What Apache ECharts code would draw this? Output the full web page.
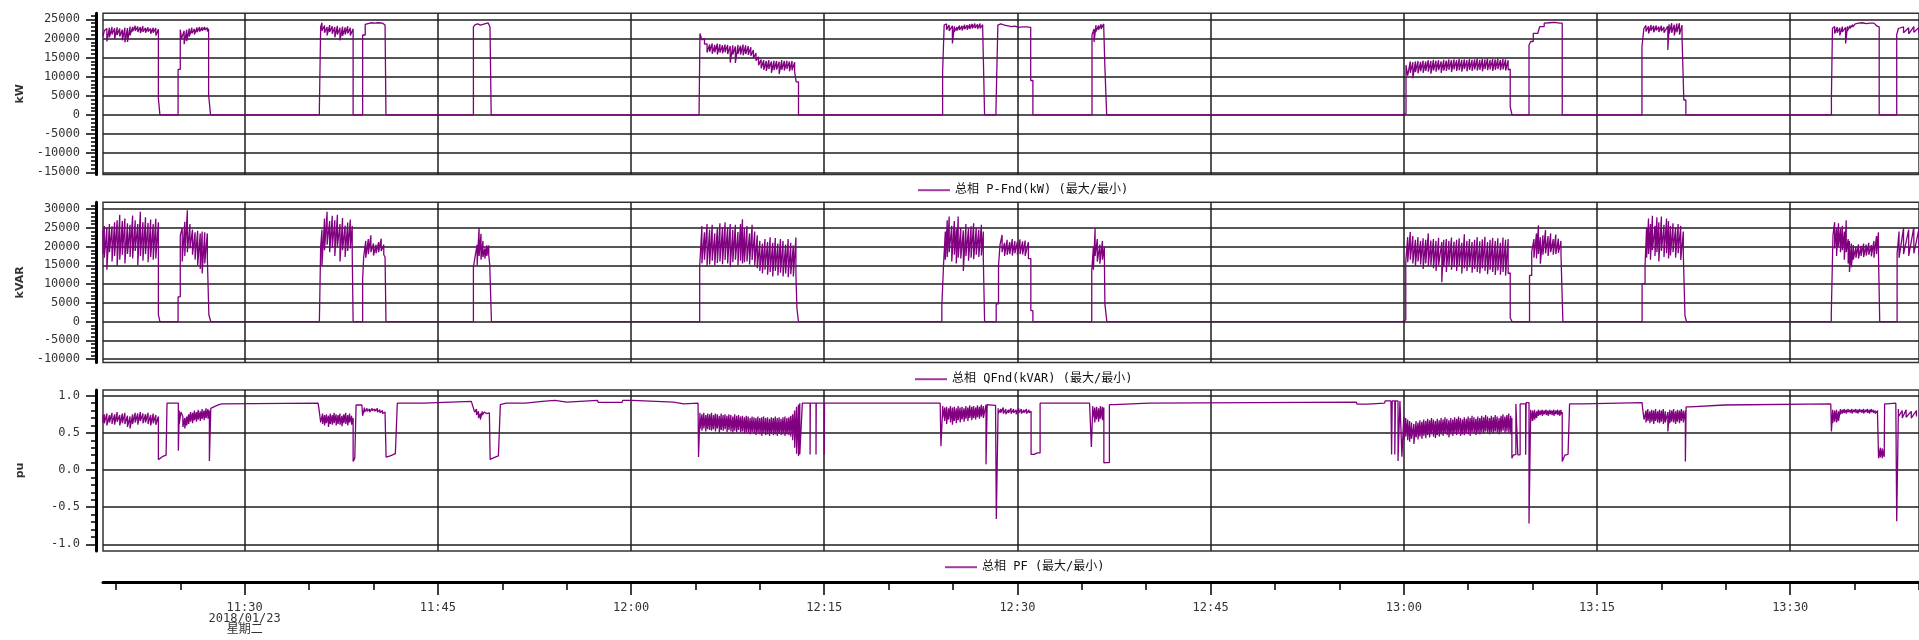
<!DOCTYPE html>
<html>
<head>
<meta charset="utf-8">
<script src="https://cdn.jsdelivr.net/npm/echarts@6/dist/echarts.min.js"></script>
<style>
  html, body { margin: 0; padding: 0; background: #fff; }
  #chart { width: 1919px; height: 640px; }
</style>
</head>
<body>
<div id="chart"></div>
<script>
// time = minutes of the day (679 = 11:19), each row: [time, value, value]
// band rows are [time, max, min]; steps list the two values in drawing order
var kwData = [
  [679.0, 21500, 20500], [679.1, 22000, 20500], [679.3, 22600, 19200], [679.5, 22800, 20300],
  [679.7, 23000, 21000], [679.9, 22700, 19800], [680.1, 22900, 20900], [680.3, 22600, 20500],
  [680.5, 22300, 19500], [680.7, 22800, 19000], [680.9, 22700, 19100], [681.1, 23100, 20800],
  [681.3, 23000, 21800], [681.5, 23300, 22000], [681.7, 23100, 21700], [681.9, 23000, 21400],
  [682.1, 23200, 21700], [682.3, 22800, 21500], [682.5, 22900, 21800], [682.7, 22600, 21200],
  [682.9, 22800, 21500], [683.1, 22700, 20800], [683.3, 22400, 4300], [683.42, 4300, 0],
  [684.83, 11900, 0], [685.0, 22300, 11900], [685.1, 22400, 20000], [685.3, 22000, 18500],
  [685.5, 22300, 19300], [685.7, 22600, 20500], [685.9, 22800, 21300], [686.1, 22500, 21000],
  [686.3, 22900, 21600], [686.5, 23000, 21800], [686.7, 22900, 22000], [686.9, 23000, 22200],
  [687.1, 22800, 21800], [687.2, 22500, 5300], [687.35, 5300, 0],
  [695.8, 1700, 0], [695.9, 23000, 1700], [696.0, 24100, 22000], [696.2, 23400, 21500],
  [696.4, 23000, 20800], [696.6, 23500, 21700], [696.8, 23200, 21200], [697.0, 23000, 20300],
  [697.2, 23300, 21000], [697.4, 22800, 19500], [697.6, 23100, 20700], [697.8, 22900, 21000],
  [698.0, 23200, 21300], [698.2, 22800, 20800], [698.42, 22500, 0],
  [699.16, 20900, 0], [699.36, 23700, 20900], [699.5, 23900, 23800], [699.8, 24100, 24000],
  [700.1, 24200, 24000], [700.4, 24100, 24000], [700.7, 24000, 23900], [700.9, 23500, 23400],
  [700.97, 23400, 0],
  [707.76, 23000, 0], [707.9, 23600, 23000], [708.1, 23800, 23300], [708.3, 23500, 23000],
  [708.5, 23700, 23200], [708.7, 23900, 23400], [708.9, 24100, 23600], [709.05, 23000, 22200],
  [709.14, 22200, 0],
  [725.28, 400, 0], [725.35, 21300, 400], [725.5, 21000, 19600], [725.7, 20000, 18500],
  [725.9, 18600, 16300], [726.1, 18400, 16500], [726.3, 18700, 16000], [726.5, 18300, 16400],
  [726.7, 18600, 15800], [726.9, 18500, 16300], [727.1, 18200, 16100], [727.3, 18400, 16400],
  [727.5, 18300, 15900], [727.7, 18000, 13700], [727.9, 18200, 15800], [728.1, 17900, 13600],
  [728.3, 18300, 16000], [728.5, 18100, 15800], [728.7, 18400, 15600], [728.9, 18200, 15900],
  [729.1, 18000, 15700], [729.3, 17700, 15500], [729.5, 17000, 14800], [729.7, 16200, 14200],
  [729.9, 15200, 13000], [730.1, 14500, 12200], [730.3, 14300, 11800], [730.5, 14100, 11500],
  [730.7, 14300, 12000], [730.9, 14000, 11000], [731.1, 14200, 11700], [731.3, 14100, 11900],
  [731.5, 13900, 10700], [731.7, 14300, 11800], [731.9, 14100, 11600], [732.1, 14200, 12000],
  [732.3, 14000, 11400], [732.5, 14100, 11700], [732.7, 13800, 11300], [732.82, 11500, 8640],
  [733.0, 8640, 0],
  [744.19, 11200, 0], [744.31, 23500, 11200], [744.5, 23800, 22300], [744.7, 23500, 22000],
  [744.95, 23300, 18700], [745.1, 23200, 21800], [745.3, 23000, 22000], [745.5, 23400, 22200],
  [745.7, 23300, 22100], [745.9, 23600, 22400], [746.1, 23500, 22300], [746.3, 23700, 22500],
  [746.5, 23800, 22600], [746.7, 23900, 22700], [746.9, 23700, 22500], [747.1, 23900, 22600],
  [747.3, 23600, 22800], [747.45, 22800, 0],
  [748.33, 1100, 0], [748.48, 23500, 1100], [748.7, 23800, 23400], [749.0, 23500, 23200],
  [749.55, 23100, 22600], [749.8, 23200, 22900], [750.1, 23100, 22900], [750.4, 23000, 22800],
  [750.7, 23000, 22700], [751.03, 22900, 9000], [751.2, 9000, 0],
  [755.79, 20900, 0], [755.95, 22500, 19100], [756.1, 23500, 21800], [756.3, 23400, 22300],
  [756.5, 23700, 22500], [756.7, 23800, 23000], [756.79, 23000, 12500], [756.93, 12500, 0],
  [779.8, 300, 0], [780.17, 13000, 300], [780.3, 13500, 10300], [780.5, 14000, 11000],
  [780.7, 13800, 9600], [780.9, 14000, 11200], [781.1, 14100, 10900], [781.3, 13900, 11400],
  [781.5, 14200, 11000], [781.7, 14000, 11500], [781.9, 14300, 11300], [782.1, 14100, 10800],
  [782.3, 14400, 11600], [782.5, 14200, 11300], [782.7, 14300, 11700], [782.9, 14000, 11000],
  [783.1, 14400, 11600], [783.3, 14200, 11500], [783.5, 14500, 11800], [783.7, 14300, 11200],
  [783.9, 14500, 11900], [784.1, 14300, 11500], [784.3, 14600, 11700], [784.5, 14400, 11300],
  [784.7, 14500, 12000], [784.9, 14300, 11400], [785.1, 14600, 11800], [785.3, 14400, 11500],
  [785.5, 14500, 11900], [785.7, 14700, 11600], [785.9, 14400, 11800], [786.1, 14600, 11400],
  [786.3, 14500, 12000], [786.5, 14700, 11700], [786.7, 14400, 11900], [786.9, 14600, 11500],
  [787.1, 14500, 11800], [787.3, 14700, 12000], [787.5, 14400, 11700], [787.7, 14600, 11900],
  [787.9, 14500, 11600], [788.1, 14300, 11800], [788.26, 12000, 2200], [788.4, 2200, 0],
  [789.72, 18300, 0], [789.85, 19200, 18300], [790.05, 21300, 19200], [790.4, 21600, 21300],
  [790.55, 23100, 21600], [790.9, 24000, 23100], [791.3, 24100, 23900], [791.7, 24200, 24000],
  [792.1, 24100, 24000], [792.3, 24000, 0],
  [798.49, 17900, 0], [798.64, 22600, 17900], [798.8, 23400, 21800], [799.0, 23200, 21300],
  [799.2, 23500, 22000], [799.4, 23300, 21600], [799.6, 23400, 22100], [799.8, 23100, 21700],
  [800.0, 23300, 21900], [800.2, 23000, 21500], [800.5, 23200, 17000], [800.6, 23700, 21300],
  [800.8, 24000, 21500], [801.0, 23600, 20800], [801.2, 23900, 21600], [801.4, 24000, 21000],
  [801.6, 23500, 20600], [801.74, 21000, 3900], [801.9, 3900, 0],
  [813.2, 4800, 0], [813.28, 22600, 4800], [813.45, 23100, 21300], [813.65, 23000, 21500],
  [813.85, 22800, 20800], [814.05, 23100, 21700], [814.3, 22900, 18700], [814.45, 23200, 22000],
  [814.65, 23400, 22600], [814.85, 23600, 23000], [815.05, 23800, 23400], [815.3, 24000, 23800],
  [815.6, 24100, 23900], [815.9, 24100, 23900], [816.2, 24000, 23900], [816.5, 24000, 23800],
  [816.75, 23200, 23000], [816.91, 23000, 0],
  [818.27, 21000, 0], [818.4, 22600, 21000], [818.8, 23000, 21500], [819.2, 22800, 21200],
  [819.6, 23100, 21600], [820.0, 22900, 21400]
];

var kvarData = [
  [679.0, 24500, 18000], [679.1, 25500, 17000], [679.3, 25000, 13800], [679.5, 26000, 18500],
  [679.7, 25400, 16000], [679.9, 26500, 17500], [680.1, 27000, 14800], [680.3, 28500, 16500],
  [680.5, 26800, 17800], [680.7, 27500, 15500], [680.9, 26200, 18000], [681.1, 25800, 17200],
  [681.3, 28300, 16800], [681.5, 27000, 18800], [681.7, 26000, 15000], [681.9, 29300, 17500],
  [682.1, 26500, 16200], [682.3, 27800, 18000], [682.5, 26300, 15800], [682.7, 27200, 17200],
  [682.9, 26000, 16500], [683.1, 27400, 16800], [683.3, 26500, 1800], [683.42, 1800, 0],
  [684.83, 6600, 0], [685.0, 23000, 6600], [685.15, 25000, 16000], [685.35, 26600, 17500],
  [685.55, 29700, 18500], [685.75, 26000, 19500], [685.95, 24500, 17800], [686.15, 23800, 16500],
  [686.35, 24200, 15000], [686.55, 23500, 14000], [686.7, 24000, 12800], [686.9, 23800, 15500],
  [687.1, 23500, 17000], [687.22, 17000, 1800], [687.37, 1800, 0],
  [695.8, 400, 0], [695.9, 19900, 400], [696.0, 24500, 14800], [696.2, 27500, 19000],
  [696.4, 29300, 20500], [696.6, 26800, 18500], [696.8, 28200, 19800], [697.0, 27000, 17500],
  [697.2, 28500, 20000], [697.4, 26000, 16000], [697.6, 27600, 19000], [697.8, 25600, 17200],
  [698.0, 26400, 18800], [698.2, 27200, 19500], [698.35, 25500, 18500], [698.42, 18500, 0],
  [699.16, 11400, 0], [699.24, 17200, 11400], [699.4, 21500, 17000], [699.6, 22000, 18000],
  [699.8, 23000, 18500], [700.0, 20800, 17600], [700.2, 20500, 18200], [700.4, 21200, 18500],
  [700.6, 22100, 18800], [700.8, 20500, 17800], [700.9, 17500, 17200], [700.97, 17200, 0],
  [707.76, 14500, 0], [707.9, 17500, 14500], [708.05, 20500, 15000], [708.2, 25100, 17500],
  [708.35, 23400, 16500], [708.5, 21500, 17200], [708.65, 19500, 16800], [708.8, 20300, 17500],
  [708.95, 20300, 17800], [709.03, 17800, 15000], [709.16, 15000, 0],
  [725.33, 14900, 0], [725.5, 25500, 15500], [725.7, 23800, 16500], [725.9, 26000, 14800],
  [726.1, 24500, 15200], [726.3, 25800, 16200], [726.5, 23500, 15000], [726.7, 24800, 15600],
  [726.9, 26200, 16000], [727.1, 25000, 15300], [727.3, 26500, 16400], [727.5, 25200, 15500],
  [727.7, 26000, 14500], [727.9, 24500, 15800], [728.1, 25800, 16500], [728.3, 23900, 15000],
  [728.5, 26000, 16200], [728.65, 27300, 15500], [728.8, 24800, 15800], [729.0, 25500, 16000],
  [729.2, 23500, 15200], [729.4, 25800, 16400], [729.6, 24000, 15000], [729.8, 23000, 14200],
  [730.0, 21500, 13500], [730.2, 20800, 12800], [730.4, 22000, 13800], [730.6, 21200, 12500],
  [730.8, 22500, 13200], [731.0, 21000, 12000], [731.2, 22300, 13500], [731.4, 20800, 12300],
  [731.6, 22000, 13000], [731.8, 21500, 12000], [732.0, 20500, 12800], [732.2, 22000, 11800],
  [732.4, 21000, 12600], [732.6, 20300, 12000], [732.8, 22400, 12500], [732.88, 12500, 3400],
  [733.0, 3400, 0],
  [744.13, 4200, 0], [744.26, 15000, 4200], [744.4, 24000, 16500], [744.55, 27000, 17200],
  [744.7, 28000, 18500], [744.9, 25500, 16000], [745.1, 26800, 17800], [745.25, 24800, 15500],
  [745.4, 28000, 17000], [745.6, 25000, 16800], [745.8, 24300, 13500], [746.0, 26000, 17500],
  [746.2, 24800, 16200], [746.4, 25400, 17000], [746.6, 26200, 16600], [746.8, 25000, 17800],
  [747.0, 24500, 17200], [747.2, 25800, 17600], [747.35, 24000, 16800], [747.45, 16800, 0],
  [748.35, 4700, 0], [748.53, 15000, 4700], [748.65, 20500, 15000], [748.81, 23100, 18500],
  [749.0, 21000, 17500], [749.2, 21800, 17800], [749.4, 21200, 18000], [749.6, 22000, 17600],
  [749.8, 21500, 18200], [750.0, 21300, 17800], [750.2, 21900, 18000], [750.4, 21400, 17900],
  [750.6, 21600, 17500], [750.85, 21200, 16800], [751.04, 16800, 2900], [751.2, 2900, 0],
  [755.77, 13600, 0], [755.9, 20000, 13800], [756.03, 24900, 17500], [756.2, 22000, 16000],
  [756.4, 20500, 15400], [756.6, 21500, 16500], [756.75, 19900, 17000], [756.79, 17000, 4700],
  [756.94, 4700, 0],
  [779.9, 400, 0], [780.15, 15900, 400], [780.3, 22500, 15800], [780.5, 23900, 16500],
  [780.7, 22800, 15500], [780.9, 21800, 14800], [781.1, 22500, 16000], [781.3, 21500, 15200],
  [781.5, 22200, 14000], [781.7, 21800, 15500], [781.9, 23500, 14800], [782.1, 21600, 15000],
  [782.3, 22000, 14200], [782.5, 21500, 13500], [782.7, 22300, 15000], [782.95, 21200, 10500],
  [783.1, 21800, 14500], [783.3, 22000, 13200], [783.5, 21500, 14800], [783.7, 22400, 13800],
  [783.9, 21300, 14500], [784.1, 21800, 13500], [784.3, 22200, 14800], [784.5, 21000, 12800],
  [784.7, 23300, 14200], [784.9, 21500, 13500], [785.1, 22000, 14500], [785.3, 21200, 13000],
  [785.5, 21800, 14000], [785.7, 22500, 13200], [785.9, 21400, 12800], [786.1, 21900, 14200],
  [786.3, 22600, 13500], [786.5, 21200, 12600], [786.7, 21800, 13800], [786.9, 22300, 13200],
  [787.1, 21500, 12400], [787.3, 22200, 13600], [787.5, 21000, 12500], [787.7, 22400, 13200],
  [787.9, 21800, 12200], [788.1, 22000, 12800], [788.26, 13000, 1000], [788.4, 1000, 0],
  [789.76, 12300, 0], [789.93, 18600, 12300], [790.1, 22000, 17000], [790.3, 23500, 16800],
  [790.45, 25700, 18000], [790.6, 22500, 15400], [790.8, 23000, 17800], [791.0, 24400, 18200],
  [791.2, 22800, 17500], [791.4, 23500, 18500], [791.6, 22000, 17800], [791.8, 23200, 18000],
  [792.0, 22100, 18300], [792.2, 21500, 18000], [792.35, 18000, 0],
  [798.5, 10100, 0], [798.73, 15000, 10100], [798.85, 25000, 17000], [799.0, 27500, 18000],
  [799.15, 26000, 16500], [799.3, 28200, 19000], [799.5, 25500, 17500], [799.65, 27800, 18500],
  [799.8, 26500, 16000], [800.0, 28000, 18800], [800.2, 25800, 17200], [800.4, 27500, 18200],
  [800.55, 26800, 16800], [800.7, 25500, 17600], [800.9, 26200, 18500], [801.1, 25000, 17000],
  [801.3, 26000, 18200], [801.5, 25500, 16400], [801.7, 24000, 18000], [801.83, 18000, 1500],
  [801.95, 1500, 0],
  [813.19, 2000, 0], [813.32, 23000, 2000], [813.45, 26500, 19500], [813.6, 25000, 17500],
  [813.75, 26200, 20000], [813.9, 24800, 18500], [814.05, 25500, 19000], [814.2, 24000, 16500],
  [814.35, 27000, 18500], [814.5, 22000, 15500], [814.6, 21500, 13200], [814.75, 20800, 14500],
  [814.9, 20400, 16500], [815.1, 20000, 17000], [815.3, 20600, 16800], [815.5, 20200, 17500],
  [815.7, 20800, 17200], [815.9, 20500, 17600], [816.1, 21000, 17800], [816.3, 20400, 17400],
  [816.5, 21500, 17000], [816.7, 22800, 18000], [816.85, 23800, 18500], [816.95, 18500, 0],
  [818.3, 18100, 0], [818.45, 24000, 17000], [818.8, 25000, 18000], [819.2, 24500, 17500],
  [819.6, 25200, 18200], [820.0, 24800, 17800]
];

var pfData = [
  [679.0, 0.74, 0.64], [679.1, 0.75, 0.63], [679.3, 0.76, 0.60], [679.5, 0.74, 0.64],
  [679.7, 0.77, 0.62], [679.9, 0.75, 0.61], [680.1, 0.78, 0.65], [680.3, 0.74, 0.60],
  [680.5, 0.76, 0.63], [680.7, 0.77, 0.62], [680.9, 0.73, 0.58], [681.1, 0.72, 0.56],
  [681.3, 0.75, 0.62], [681.5, 0.77, 0.64], [681.7, 0.76, 0.61], [681.9, 0.78, 0.66],
  [682.1, 0.76, 0.63], [682.3, 0.75, 0.64], [682.5, 0.77, 0.62], [682.7, 0.74, 0.60],
  [682.9, 0.76, 0.63], [683.1, 0.74, 0.61], [683.3, 0.72, 0.14], [683.4, 0.14, 0.16],
  [683.6, 0.18, 0.19], [683.9, 0.20, 0.21], [683.97, 0.21, 0.90], [684.5, 0.90, 0.90],
  [684.85, 0.90, 0.26], [684.92, 0.80, 0.62], [685.05, 0.78, 0.62], [685.2, 0.72, 0.58],
  [685.35, 0.70, 0.56], [685.5, 0.72, 0.60], [685.65, 0.75, 0.62], [685.8, 0.78, 0.65],
  [685.95, 0.77, 0.63], [686.1, 0.80, 0.67], [686.25, 0.78, 0.65], [686.4, 0.81, 0.68],
  [686.55, 0.79, 0.66], [686.7, 0.82, 0.69], [686.85, 0.80, 0.67], [687.0, 0.83, 0.70],
  [687.15, 0.82, 0.69], [687.26, 0.80, 0.12], [687.37, 0.83, 0.12], [687.6, 0.85, 0.86],
  [688.0, 0.88, 0.89], [688.23, 0.89, 0.906], [695.7, 0.90, 0.90],
  [695.78, 0.90, 0.81], [695.9, 0.80, 0.64], [696.05, 0.76, 0.62], [696.2, 0.74, 0.60],
  [696.35, 0.75, 0.63], [696.5, 0.73, 0.58], [696.65, 0.76, 0.62], [696.8, 0.74, 0.61],
  [696.95, 0.77, 0.63], [697.1, 0.75, 0.60], [697.25, 0.74, 0.62], [697.4, 0.76, 0.61],
  [697.55, 0.73, 0.59], [697.7, 0.75, 0.63], [697.85, 0.77, 0.62], [698.0, 0.74, 0.60],
  [698.15, 0.76, 0.64], [698.3, 0.73, 0.61], [698.42, 0.70, 0.116], [698.55, 0.14, 0.16],
  [698.65, 0.875, 0.16], [699.1, 0.875, 0.87], [699.16, 0.875, 0.73], [699.3, 0.84, 0.78],
  [699.5, 0.83, 0.79], [699.7, 0.82, 0.78], [699.9, 0.83, 0.80], [700.1, 0.82, 0.79],
  [700.3, 0.83, 0.78], [700.5, 0.81, 0.77], [700.7, 0.80, 0.76], [700.9, 0.78, 0.75],
  [700.98, 0.76, 0.174], [701.3, 0.19, 0.20], [701.7, 0.22, 0.23], [701.85, 0.90, 0.23],
  [703.9, 0.90, 0.90], [704.0, 0.924, 0.90], [707.6, 0.924, 0.924],
  [707.72, 0.924, 0.857], [707.85, 0.86, 0.78], [708.0, 0.82, 0.74], [708.15, 0.79, 0.70],
  [708.3, 0.76, 0.68], [708.45, 0.79, 0.74], [708.6, 0.78, 0.76], [708.8, 0.78, 0.76],
  [709.0, 0.77, 0.75], [709.06, 0.76, 0.143], [709.4, 0.17, 0.18], [709.7, 0.19, 0.19],
  [709.85, 0.88, 0.19], [710.3, 0.90, 0.90], [711.8, 0.90, 0.90], [711.85, 0.924, 0.90],
  [713.1, 0.924, 0.924], [713.15, 0.937, 0.924], [714.1, 0.937, 0.937], [714.15, 0.915, 0.937],
  [715.0, 0.915, 0.915], [715.05, 0.937, 0.915], [717.4, 0.937, 0.937], [717.45, 0.91, 0.937],
  [719.3, 0.91, 0.91], [719.35, 0.937, 0.91], [720.1, 0.937, 0.937], [720.15, 0.915, 0.937],
  [723.3, 0.915, 0.915], [723.35, 0.89, 0.915], [724.1, 0.89, 0.89], [724.15, 0.90, 0.89],
  [725.2, 0.90, 0.90], [725.24, 0.90, 0.174],
  [725.35, 0.77, 0.55], [725.5, 0.75, 0.53], [725.65, 0.77, 0.56], [725.8, 0.74, 0.52],
  [725.95, 0.76, 0.55], [726.1, 0.75, 0.54], [726.25, 0.77, 0.53], [726.4, 0.74, 0.55],
  [726.55, 0.76, 0.52], [726.7, 0.75, 0.56], [726.85, 0.73, 0.50], [727.0, 0.76, 0.54],
  [727.15, 0.74, 0.53], [727.3, 0.75, 0.55], [727.45, 0.73, 0.51], [727.6, 0.75, 0.54],
  [727.75, 0.74, 0.52], [727.9, 0.72, 0.50], [728.05, 0.75, 0.53], [728.2, 0.73, 0.51],
  [728.35, 0.74, 0.54], [728.5, 0.72, 0.50], [728.65, 0.73, 0.52], [728.8, 0.71, 0.49],
  [728.95, 0.73, 0.51], [729.1, 0.72, 0.50], [729.25, 0.70, 0.48], [729.4, 0.72, 0.51],
  [729.55, 0.71, 0.49], [729.7, 0.70, 0.47], [729.85, 0.72, 0.50], [730.0, 0.70, 0.48],
  [730.15, 0.71, 0.46], [730.3, 0.72, 0.49], [730.45, 0.70, 0.47], [730.6, 0.71, 0.48],
  [730.75, 0.69, 0.46], [730.9, 0.71, 0.49], [731.05, 0.70, 0.47], [731.2, 0.72, 0.48],
  [731.35, 0.70, 0.46], [731.5, 0.71, 0.49], [731.65, 0.69, 0.47], [731.8, 0.71, 0.48],
  [731.95, 0.72, 0.46], [732.1, 0.70, 0.48], [732.25, 0.71, 0.47], [732.4, 0.73, 0.45],
  [732.55, 0.75, 0.40], [732.7, 0.80, 0.30], [732.85, 0.85, 0.22], [733.0, 0.88, 0.19],
  [733.1, 0.90, 0.21], [733.3, 0.90, 0.90], [733.9, 0.90, 0.21], [733.92, 0.90, 0.90],
  [734.36, 0.90, 0.21], [734.38, 0.90, 0.90], [735.0, 0.90, 0.21], [735.02, 0.90, 0.90],
  [744.0, 0.90, 0.90], [744.06, 0.90, 0.32],
  [744.2, 0.86, 0.70], [744.35, 0.84, 0.66], [744.5, 0.85, 0.62], [744.65, 0.83, 0.68],
  [744.8, 0.86, 0.64], [744.95, 0.84, 0.61], [745.1, 0.85, 0.66], [745.25, 0.83, 0.63],
  [745.4, 0.86, 0.67], [745.55, 0.84, 0.64], [745.7, 0.85, 0.68], [745.85, 0.83, 0.65],
  [746.0, 0.86, 0.69], [746.15, 0.84, 0.66], [746.3, 0.87, 0.70], [746.45, 0.85, 0.67],
  [746.6, 0.86, 0.70], [746.75, 0.84, 0.68], [746.9, 0.87, 0.71], [747.05, 0.85, 0.69],
  [747.2, 0.88, 0.72], [747.35, 0.86, 0.70], [747.56, 0.88, 0.076], [747.65, 0.88, 0.87],
  [748.3, 0.88, 0.87], [748.36, 0.88, -0.66],
  [748.5, 0.83, 0.76], [748.7, 0.82, 0.77], [748.9, 0.84, 0.76], [749.1, 0.82, 0.75],
  [749.3, 0.81, 0.77], [749.5, 0.83, 0.76], [749.7, 0.82, 0.77], [749.9, 0.81, 0.75],
  [750.1, 0.83, 0.77], [750.3, 0.82, 0.76], [750.5, 0.81, 0.77], [750.7, 0.82, 0.76],
  [750.9, 0.81, 0.77], [751.06, 0.79, 0.21], [751.3, 0.22, 0.21], [751.55, 0.23, 0.23],
  [751.76, 0.90, 0.23], [755.6, 0.90, 0.90], [755.74, 0.90, 0.31],
  [755.85, 0.86, 0.70], [756.0, 0.84, 0.64], [756.15, 0.85, 0.68], [756.3, 0.83, 0.65],
  [756.45, 0.86, 0.69], [756.6, 0.85, 0.67], [756.71, 0.84, 0.098], [756.9, 0.10, 0.11],
  [757.05, 0.11, 0.10], [757.14, 0.88, 0.10], [757.5, 0.90, 0.88], [760.2, 0.90, 0.90],
  [760.25, 0.915, 0.90], [776.3, 0.915, 0.915], [776.36, 0.888, 0.915], [777.2, 0.888, 0.888],
  [777.25, 0.90, 0.888], [778.5, 0.90, 0.90], [778.55, 0.93, 0.90], [779.0, 0.93, 0.93],
  [779.05, 0.93, 0.21], [779.1, 0.93, 0.93], [779.3, 0.93, 0.21], [779.35, 0.93, 0.93],
  [779.55, 0.93, 0.12], [779.7, 0.93, 0.12], [779.85, 0.92, 0.18],
  [780.0, 0.72, 0.40], [780.15, 0.70, 0.45], [780.3, 0.68, 0.40], [780.45, 0.66, 0.38],
  [780.6, 0.64, 0.42], [780.78, 0.62, 0.35], [780.95, 0.66, 0.44], [781.1, 0.64, 0.41],
  [781.25, 0.67, 0.45], [781.4, 0.65, 0.42], [781.55, 0.68, 0.46], [781.7, 0.66, 0.43],
  [781.85, 0.69, 0.47], [782.0, 0.67, 0.44], [782.15, 0.70, 0.48], [782.3, 0.68, 0.45],
  [782.45, 0.66, 0.43], [782.6, 0.69, 0.47], [782.75, 0.67, 0.45], [782.9, 0.70, 0.48],
  [783.05, 0.68, 0.46], [783.2, 0.71, 0.49], [783.35, 0.69, 0.47], [783.5, 0.67, 0.44],
  [783.65, 0.70, 0.48], [783.8, 0.68, 0.46], [783.95, 0.71, 0.49], [784.1, 0.69, 0.47],
  [784.25, 0.72, 0.50], [784.4, 0.70, 0.46], [784.55, 0.68, 0.48], [784.7, 0.71, 0.47],
  [784.85, 0.69, 0.50], [785.0, 0.72, 0.48], [785.15, 0.70, 0.46], [785.3, 0.73, 0.51],
  [785.45, 0.71, 0.49], [785.6, 0.69, 0.47], [785.75, 0.72, 0.50], [785.9, 0.70, 0.48],
  [786.05, 0.73, 0.51], [786.2, 0.71, 0.49], [786.35, 0.74, 0.52], [786.5, 0.72, 0.50],
  [786.65, 0.70, 0.48], [786.8, 0.73, 0.51], [786.95, 0.71, 0.49], [787.1, 0.74, 0.52],
  [787.25, 0.72, 0.50], [787.4, 0.70, 0.48], [787.55, 0.73, 0.51], [787.7, 0.75, 0.53],
  [787.85, 0.72, 0.50], [788.0, 0.74, 0.52], [788.15, 0.76, 0.50], [788.3, 0.73, 0.48],
  [788.39, 0.70, 0.16], [788.5, 0.20, 0.21], [788.7, 0.21, 0.89], [788.85, 0.89, 0.205],
  [789.03, 0.89, 0.205], [789.46, 0.89, 0.205], [789.5, 0.906, 0.205], [789.72, 0.906, -0.72],
  [789.85, 0.81, 0.65], [790.0, 0.80, 0.66], [790.15, 0.81, 0.68], [790.3, 0.79, 0.70],
  [790.45, 0.81, 0.73], [790.6, 0.80, 0.74], [790.75, 0.81, 0.73], [790.9, 0.80, 0.75],
  [791.05, 0.81, 0.74], [791.2, 0.80, 0.73], [791.35, 0.81, 0.75], [791.5, 0.80, 0.74],
  [791.65, 0.81, 0.73], [791.8, 0.80, 0.75], [791.95, 0.81, 0.74], [792.1, 0.80, 0.73],
  [792.2, 0.81, 0.75], [792.3, 0.78, 0.116], [792.5, 0.20, 0.21], [792.75, 0.21, 0.205],
  [792.87, 0.89, 0.205], [793.9, 0.906, 0.89], [798.5, 0.906, 0.906], [798.54, 0.906, 0.83],
  [798.65, 0.83, 0.68], [798.8, 0.80, 0.64], [798.95, 0.82, 0.66], [799.1, 0.79, 0.63],
  [799.25, 0.81, 0.65], [799.4, 0.80, 0.62], [799.55, 0.82, 0.66], [799.7, 0.79, 0.64],
  [799.85, 0.81, 0.63], [800.0, 0.80, 0.65], [800.15, 0.82, 0.62], [800.3, 0.79, 0.64],
  [800.5, 0.78, 0.52], [800.65, 0.81, 0.63], [800.8, 0.80, 0.65], [800.95, 0.82, 0.64],
  [801.1, 0.79, 0.62], [801.25, 0.81, 0.65], [801.4, 0.80, 0.63], [801.55, 0.82, 0.66],
  [801.7, 0.80, 0.64], [801.86, 0.80, 0.116], [801.92, 0.85, 0.116], [802.2, 0.875, 0.85],
  [804.9, 0.875, 0.875], [804.95, 0.89, 0.875], [813.15, 0.89, 0.89], [813.2, 0.89, 0.52],
  [813.3, 0.81, 0.63], [813.45, 0.80, 0.65], [813.6, 0.81, 0.64], [813.75, 0.79, 0.66],
  [813.9, 0.82, 0.75], [814.05, 0.81, 0.76], [814.2, 0.82, 0.77], [814.35, 0.81, 0.76],
  [814.5, 0.82, 0.78], [814.65, 0.81, 0.77], [814.8, 0.82, 0.76], [814.95, 0.81, 0.78],
  [815.1, 0.82, 0.77], [815.25, 0.81, 0.76], [815.4, 0.82, 0.78], [815.55, 0.81, 0.77],
  [815.7, 0.82, 0.76], [815.85, 0.81, 0.78], [816.0, 0.82, 0.77], [816.15, 0.81, 0.76],
  [816.3, 0.82, 0.78], [816.45, 0.81, 0.77], [816.6, 0.80, 0.76], [816.78, 0.80, 0.75],
  [816.86, 0.75, 0.16], [817.0, 0.30, 0.17], [817.15, 0.29, 0.16], [817.3, 0.28, 0.18],
  [817.33, 0.89, 0.18], [817.5, 0.90, 0.89], [818.2, 0.90, 0.90], [818.27, 0.90, -0.69],
  [818.4, 0.82, 0.72], [818.7, 0.80, 0.70], [819.0, 0.81, 0.71], [819.4, 0.79, 0.70],
  [819.8, 0.80, 0.72]
];

var kwTicks = [-15000, -10000, -5000, 0, 5000, 10000, 15000, 20000, 25000];
var kvarTicks = [-10000, -5000, 0, 5000, 10000, 15000, 20000, 25000, 30000];
var pfTicks = [-1, -0.5, 0, 0.5, 1];
var timeTicks = [690, 705, 720, 735, 750, 765, 780, 795, 810];
var dateLabel = '2018/01/23\n星期二';

var names = ['总相 P-Fnd(kW) (最大/最小)', '总相 QFnd(kVAR) (最大/最小)', '总相 PF (最大/最小)'];
var MONO = "'DejaVu Sans Mono', 'Noto Sans CJK SC', monospace";
var PURPLE = '#800080';
var TXT = '#333';

function steps(a, b, d) {
  var out = [];
  for (var v = a; v <= b + d / 1000; v += d) out.push(Math.round(v * 1000) / 1000);
  return out;
}

// each row is one time column: start at the end that continues the previous point,
// otherwise draw the two values in the order they are listed
function build(rows) {
  var pts = [], last = null;
  rows.forEach(function (r) {
    var t = r[0], a = r[1], b = r[2];
    if (last !== null && last === b && last !== a) {
      pts.push([t, b], [t, a]); last = a;
    } else {
      pts.push([t, a], [t, b]); last = b;
    }
  });
  return pts;
}

function hhmm(v) {
  var h = Math.floor(v / 60), m = Math.round(v % 60);
  return h + ':' + (m < 10 ? '0' : '') + m;
}

var panels = [
  { top: 13.2, height: 161.4, min: -15600, max: 26600, ticks: kwTicks, minor: steps(-15000, 26000, 1000), name: 'kW', dec: 0 },
  { top: 202.3, height: 160.1, min: -10900, max: 31800, ticks: kvarTicks, minor: steps(-10000, 31000, 1000), name: 'kVAR', dec: 0 },
  { top: 390, height: 161, min: -1.09, max: 1.077, ticks: pfTicks, minor: steps(-1, 1, 0.1), name: 'pu', dec: 1 }
];
var legendMid = [188, 377, 565];
var legendLefts = [913, 910, 940];
var datasets = [kwData, kvarData, pfData];

var grid = [], xAxis = [], yAxis = [], series = [], legend = [];
panels.forEach(function (p, i) {
  grid.push({ left: 103, top: p.top, width: 1837, height: p.height, show: true,
    borderColor: '#333', borderWidth: 1.5, backgroundColor: 'transparent' });
  xAxis.push({
    type: 'value', gridIndex: i, min: 679, max: 820,
    axisLine: { show: false }, axisLabel: { show: false },
    axisTick: { show: false, customValues: timeTicks },
    splitLine: { show: true, customValues: timeTicks, lineStyle: { color: '#1e1e1e', width: 1.5 } }
  });
  yAxis.push({
    type: 'value', gridIndex: i, min: p.min, max: p.max, position: 'left', offset: 7,
    name: p.name, nameLocation: 'middle', nameGap: 70, nameRotate: 90,
    nameTextStyle: { fontFamily: 'DejaVu Sans', fontSize: 11, fontWeight: 'bold', color: TXT },
    axisLine: { show: true, onZero: false, lineStyle: { color: '#000', width: 3 } },
    axisTick: { show: true, length: 10, customValues: p.ticks, lineStyle: { color: '#000', width: 1.5 } },
    axisLabel: { customValues: p.ticks, margin: 16, fontFamily: MONO, fontSize: 12, color: TXT,
      formatter: function (v) { return v.toFixed(p.dec); } },
    splitLine: { show: true, customValues: p.ticks, lineStyle: { color: '#1e1e1e', width: 1.5 } }
  });
  yAxis.push({
    type: 'value', gridIndex: i, min: p.min, max: p.max, position: 'left', offset: 7,
    axisLine: { show: false },
    axisTick: { show: true, length: 5, customValues: p.minor, lineStyle: { color: '#000', width: 1.5 } },
    axisLabel: { show: false }, splitLine: { show: false }
  });
  series.push({
    name: names[i], type: 'line', xAxisIndex: i, yAxisIndex: i * 2,
    data: build(datasets[i]), symbol: 'none', showSymbol: false,
    lineStyle: { color: PURPLE, width: 1.3 }, itemStyle: { color: PURPLE },
    animation: false, silent: true
  });
  legend.push({
    data: [{ name: names[i], icon: 'rect' }], left: legendLefts[i], top: legendMid[i] - 8.8,
    itemWidth: 32, itemHeight: 2, itemGap: 5,
    itemStyle: { color: '#a03ca0' },
    textStyle: { fontFamily: MONO, fontSize: 12, color: '#111' }
  });
});

// time axis under the panels
grid.push({ left: 103, top: 572, width: 1837, height: 10, show: false });
yAxis.push({ type: 'value', gridIndex: 3, min: 0, max: 1, show: false });
xAxis.push({
  type: 'value', gridIndex: 3, min: 679, max: 820, position: 'bottom',
  axisLine: { show: true, onZero: false, lineStyle: { color: '#000', width: 3 } },
  axisTick: { show: true, length: 13, customValues: timeTicks, lineStyle: { color: '#000', width: 1.5 } },
  axisLabel: { customValues: timeTicks, margin: 20, fontFamily: MONO, fontSize: 12, color: TXT, lineHeight: 11,
    formatter: function (v) { return v === timeTicks[0] ? hhmm(v) + '\n' + dateLabel : hhmm(v); } },
  splitLine: { show: false }
});
xAxis.push({
  type: 'value', gridIndex: 3, min: 679, max: 820, position: 'bottom',
  axisLine: { show: false },
  axisTick: { show: true, length: 8, customValues: steps(680, 820, 5), lineStyle: { color: '#000', width: 1.5 } },
  axisLabel: { show: false }, splitLine: { show: false }
});

var chart = echarts.init(document.getElementById('chart'));
chart.setOption({
  animation: false,
  backgroundColor: '#fff',
  grid: grid, xAxis: xAxis, yAxis: yAxis, series: series, legend: legend
});
</script>
</body>
</html>
